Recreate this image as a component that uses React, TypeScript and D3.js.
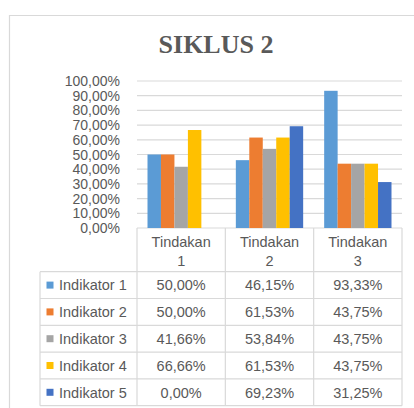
import React from 'react';
import * as d3 from 'd3';

const categories = ['Tindakan 1', 'Tindakan 2', 'Tindakan 3'];
const seriesNames = ['Indikator 1', 'Indikator 2', 'Indikator 3', 'Indikator 4', 'Indikator 5'];
const indikator1 = [50.0, 46.15, 93.33];
const indikator2 = [50.0, 61.53, 43.75];
const indikator3 = [41.66, 53.84, 43.75];
const indikator4 = [66.66, 61.53, 43.75];
const indikator5 = [0.0, 69.23, 31.25];
const yTicks = [0, 10, 20, 30, 40, 50, 60, 70, 80, 90, 100];
const colors = ['#5B9BD5', '#ED7D31', '#A5A5A5', '#FFC000', '#4472C4'];

const seriesValues = [indikator1, indikator2, indikator3, indikator4, indikator5];

const W = 414;
const H = 408;
const plot = { left: 137, right: 402, top: 81, bottom: 228 };
const tableLeft = 40;
const headerBottom = 271.7;
const rowH = 26.8;
const gridColor = '#d9d9d9';
const textColor = '#595959';
const font = '"Liberation Sans", Arial, sans-serif';

const pct = (v: number) => v.toFixed(2).replace('.', ',') + '%';

export default function App() {
  // scales
  const x = d3.scaleBand<string>().domain(categories).range([plot.left, plot.right]);
  const xInner = d3.scaleBand<string>().domain(seriesNames).range([0, x.bandwidth()]).paddingOuter(0.78);
  const y = d3.scaleLinear().domain([0, 100]).range([plot.bottom, plot.top]);

  const rows = seriesNames.map((name, i) => ({ name, values: seriesValues[i], color: colors[i] }));
  const tableBottom = headerBottom + rowH * rows.length;

  return (
    <svg width={W} height={H} style={{ position: 'absolute', left: 0, top: 0, background: '#fff' }}>
      <rect x={0} y={0} width={W} height={H} fill="#fff" />
      {/* chart frame */}
      <path d={`M9.5,${H} V15.5 H${W}`} fill="none" stroke={gridColor} strokeWidth={1.2} />

      <text x={216} y={53} textAnchor="middle" fontFamily='"Liberation Serif", "Times New Roman", serif'
        fontWeight="bold" fontSize={26} fill={textColor}>SIKLUS 2</text>

      {/* gridlines + y labels */}
      {yTicks.map(t => (
        <g key={t}>
          <line x1={plot.left} x2={plot.right} y1={y(t)} y2={y(t)} stroke={gridColor} strokeWidth={1.2} />
          <text x={120} y={y(t)} dy="0.36em" textAnchor="end" fontFamily={font} fontSize={14} fill={textColor}>
            {pct(t)}
          </text>
        </g>
      ))}

      {/* bars */}
      {categories.map((c, ci) => (
        <g key={c} transform={`translate(${x(c)},0)`}>
          {rows.map(r => (
            <rect key={r.name} x={xInner(r.name)} y={y(r.values[ci])} width={xInner.bandwidth()}
              height={plot.bottom - y(r.values[ci])} fill={r.color} />
          ))}
        </g>
      ))}

      {/* data table */}
      <g stroke={gridColor} strokeWidth={1.2} fill="none">
        {[...categories.map(c => x(c) as number), plot.right].map((vx, i) => (
          <line key={'v' + i} x1={vx} x2={vx} y1={plot.bottom} y2={tableBottom} />
        ))}
        <line x1={tableLeft} x2={tableLeft} y1={headerBottom} y2={tableBottom} />
        {rows.map((r, i) => (
          <line key={'h' + i} x1={tableLeft} x2={plot.right} y1={headerBottom + rowH * i} y2={headerBottom + rowH * i} />
        ))}
        <line x1={tableLeft} x2={plot.right} y1={tableBottom} y2={tableBottom} />
      </g>

      {categories.map(c => {
        const [word, num] = c.split(' ');
        const cx = (x(c) as number) + x.bandwidth() / 2;
        return (
          <text key={c} textAnchor="middle" fontFamily={font} fontSize={14.5} fill={textColor}>
            <tspan x={cx} y={247}>{word}</tspan>
            <tspan x={cx} y={266}>{num}</tspan>
          </text>
        );
      })}

      {rows.map((r, i) => {
        const cy = headerBottom + rowH * i + rowH / 2;
        return (
          <g key={r.name}>
            <rect x={46.5} y={cy - 3.5} width={7} height={7} fill={r.color} />
            <text x={59} y={cy} dy="0.36em" fontFamily={font} fontSize={14.5} fill={textColor}>{r.name}</text>
            {categories.map((c, ci) => (
              <text key={c} x={(x(c) as number) + x.bandwidth() / 2} y={cy} dy="0.36em" textAnchor="middle"
                fontFamily={font} fontSize={14.5} fill={textColor}>{pct(r.values[ci])}</text>
            ))}
          </g>
        );
      })}
    </svg>
  );
}
